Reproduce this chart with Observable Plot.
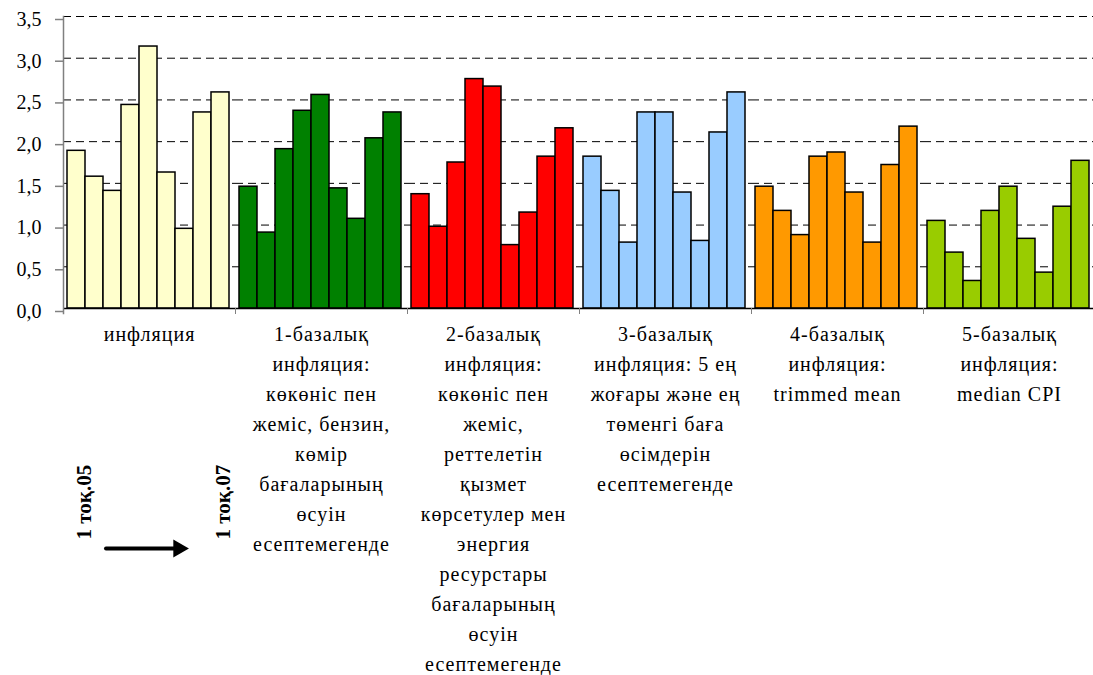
<!DOCTYPE html>
<html><head><meta charset="utf-8">
<script src="https://cdn.jsdelivr.net/npm/d3@7"></script>
<script src="https://cdn.jsdelivr.net/npm/@observablehq/plot@0.6"></script>
<style>
html,body{margin:0;padding:0;background:#fff;}
#chart svg{font-family:"Liberation Serif","Times New Roman",serif !important;}
#chart svg text{font-family:"Liberation Serif","Times New Roman",serif;}
g[aria-label="fx-axis tick label"] text{letter-spacing:1px;}
</style></head><body><div id="chart"></div>
<script>
// Quarters from 1 тоқ.05 to 1 тоқ.07
const quarters = ["1 тоқ.05","2 тоқ.05","3 тоқ.05","4 тоқ.05","1 тоқ.06","2 тоқ.06","3 тоқ.06","4 тоқ.06","1 тоқ.07"];

// Category (group) labels
const groupLabels = [
  "инфляция",
  "1-базалық\nинфляция:\nкөкөніс пен\nжеміс, бензин,\nкөмір\nбағаларының\nөсуін\nесептемегенде",
  "2-базалық\nинфляция:\nкөкөніс пен\nжеміс,\nреттелетін\nқызмет\nкөрсетулер мен\nэнергия\nресурстары\nбағаларының\nөсуін\nесептемегенде",
  "3-базалық\nинфляция: 5 ең\nжоғары және ең\nтөменгі баға\nөсімдерін\nесептемегенде",
  "4-базалық\nинфляция:\ntrimmed mean",
  "5-базалық\nинфляция:\nmedian CPI"
];

// Series values (per quarter)
const inflation = [1.89, 1.58, 1.41, 2.44, 3.14, 1.63, 0.955, 2.35, 2.59];
const core1     = [1.46, 0.91, 1.91, 2.37, 2.56, 1.44, 1.075, 2.04, 2.35];
const core2     = [1.37, 0.98, 1.75, 2.75, 2.66, 0.76, 1.15, 1.82, 2.16];
const core3     = [1.82, 1.41, 0.79, 2.35, 2.35, 1.39, 0.81, 2.11, 2.59];
const core4     = [1.46, 1.17, 0.88, 1.82, 1.87, 1.39, 0.79, 1.72, 2.18];
const core5     = [1.05, 0.67, 0.33, 1.17, 1.46, 0.835, 0.43, 1.22, 1.77];

const colors = ["#FFFFCC", "#008000", "#FF0000", "#99CCFF", "#FF9900", "#99CC00"];
const yTicks = [0, 0.5, 1, 1.5, 2, 2.5, 3, 3.5];

const series = [inflation, core1, core2, core3, core4, core5];
const rows = [];
series.forEach((vals, gi) => vals.forEach((v, qi) => rows.push({group: groupLabels[gi], quarter: quarters[qi], value: v})));

const annot = [{g: groupLabels[0], from: quarters[0], to: quarters[quarters.length - 1]}];
const FONT = "Liberation Serif";

const chart = Plot.plot({
  width: 1093,
  height: 675,
  marginLeft: 60,
  marginRight: -4,
  marginTop: 16,
  marginBottom: 367,
  style: {fontSize: "20px", color: "black", background: "white"},
  fx: {domain: groupLabels, padding: 0},
  x: {domain: quarters, padding: 0, insetLeft: 3, insetRight: 5, axis: null},
  y: {domain: [0, 3.5], label: null},
  color: {domain: groupLabels, range: colors},
  marks: [
    Plot.gridY(yTicks.filter(d => d > 0), {stroke: "black", strokeOpacity: 1, strokeDasharray: "8,5", strokeWidth: 1}),
    Plot.barY(rows, {fx: "group", x: "quarter", y: "value", fill: "group", stroke: "black", strokeWidth: 1.5}),
    Plot.ruleY([0], {stroke: "black", strokeWidth: 1.5}),
    Plot.frame({anchor: "left", facet: "super", stroke: "#808080", strokeWidth: 1.5, insetBottom: -5}),
    Plot.frame({anchor: "left", stroke: "#808080", strokeWidth: 1, insetTop: 292, insetBottom: -5}),
    Plot.axisY({ticks: yTicks, tickSize: 8, tickPadding: 14, dy: 3, stroke: "#808080", strokeWidth: 1.5,
      tickFormat: d => d.toFixed(1).replace(".", ","), fontSize: 20, fontFamily: FONT, label: null}),
    Plot.axisFx({anchor: "bottom", tickSize: 0, tickPadding: 11, label: null, lineHeight: 1.5, fontSize: 20, fontFamily: FONT}),
    Plot.text(annot, {fx: "g", x: "from", frameAnchor: "bottom", text: "from", rotate: -90, textAnchor: "start",
      fontWeight: "bold", fontSize: 21, fontFamily: FONT, dx: 14, dy: 231}),
    Plot.text(annot, {fx: "g", x: "to", frameAnchor: "bottom", text: "to", rotate: -90, textAnchor: "start",
      fontWeight: "bold", fontSize: 21, fontFamily: FONT, dx: 9, dy: 231}),
    Plot.arrow(annot, {fx: "g", x1: "from", x2: "to", y1: () => 0, y2: () => 0, dy: 240, stroke: "black",
      strokeWidth: 4, headLength: 0, insetStart: 29.5, insetEnd: 46}),
    Plot.dot(annot, {fx: "g", x: "to", y: () => 0, symbol: "triangle", rotate: 90, r: 6.7, fill: "black",
      stroke: "none", dx: -42, dy: 240})
  ]
});
document.getElementById("chart").appendChild(chart);
</script></body></html>
